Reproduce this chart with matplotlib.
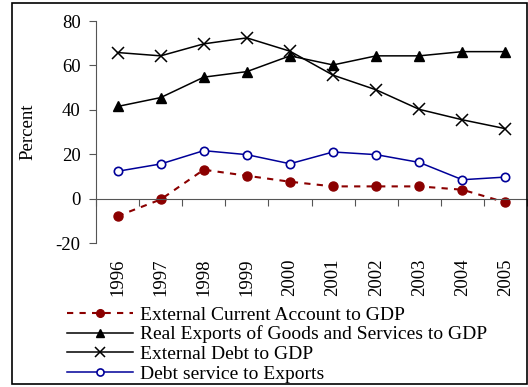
import matplotlib
matplotlib.use("Agg")
import matplotlib.pyplot as plt
from matplotlib.patches import Rectangle

years = ["1996", "1997", "1998", "1999", "2000", "2001", "2002", "2003", "2004", "2005"]
current_account = [-7.9, -0.4, 13.0, 10.3, 7.6, 5.5, 5.5, 5.5, 4.0, -1.7]
real_exports = [41.5, 45.5, 54.7, 57.2, 64.3, 60.2, 64.3, 64.3, 66.2, 66.2]
external_debt = [65.8, 64.3, 69.7, 72.4, 66.4, 55.6, 49.0, 40.2, 35.5, 31.5]
debt_service = [12.3, 15.6, 21.6, 19.8, 15.7, 21.0, 19.8, 16.3, 8.5, 9.7]

plt.rcParams['font.family'] = ['Liberation Serif', 'DejaVu Serif']
plt.rcParams['axes.unicode_minus'] = False

fig = plt.figure(figsize=(5.28, 3.87), dpi=100)
ax = fig.add_axes([96/528, 1 - 243/387, 431/528, (243 - 21)/387])

x = range(len(years))
ax.plot(x, current_account, color='#8b0000', ls=(0, (3, 3)), lw=1.5,
        marker='o', ms=6.5, label='External Current Account to GDP')
ax.plot(x, real_exports, color='black', lw=1.1, marker='^', ms=7.5,
        label='Real Exports of Goods and Services to GDP')
ax.plot(x, external_debt, color='black', lw=1.1, marker='x', ms=8, mew=1.1,
        label='External Debt to GDP')
ax.plot(x, debt_service, color='#000099', lw=1.1, marker='o', ms=6,
        mfc='white', mew=1.2, label='Debt service to Exports')

ax.set_xlim(-0.5, len(years) - 0.5)
ax.set_ylim(-20, 80)
ax.set_yticks([-20, 0, 20, 40, 60, 80])
ax.tick_params(axis='y', labelsize=13.5, direction='out', length=5, pad=6, color='#555555')
ax.set_ylabel('Percent', fontsize=13.5, labelpad=14)

# category axis sits on zero, boundary ticks only
ax.spines['top'].set_visible(False)
ax.spines['right'].set_visible(False)
ax.spines['left'].set_color('#555555')
ax.spines['bottom'].set_position(('data', 0))
ax.spines['bottom'].set_color('#555555')
ax.set_xticks([i - 0.5 for i in range(len(years) + 1)])
ax.set_xticklabels([])
ax.tick_params(axis='x', direction='out', length=5, color='#555555')

# year labels below the plot area
sec = ax.secondary_xaxis('bottom')
sec.set_xticks(list(x))
sec.set_xticklabels(years, rotation=90, fontsize=13.5)
sec.tick_params(length=0, pad=11)
sec.spines['bottom'].set_visible(False)

fig.legend(loc='upper left', bbox_to_anchor=(67/528, 1 - 306/387), frameon=False,
           fontsize=14, handlelength=3.4, handletextpad=0.35, labelspacing=0.1,
           markerscale=0.85, borderpad=0, borderaxespad=0)

fig.add_artist(Rectangle((12/528, 3/387), 515/528, 381/387, transform=fig.transFigure,
                         fill=False, ec='black', lw=1.2))

fig.savefig('out.png', dpi=100)
